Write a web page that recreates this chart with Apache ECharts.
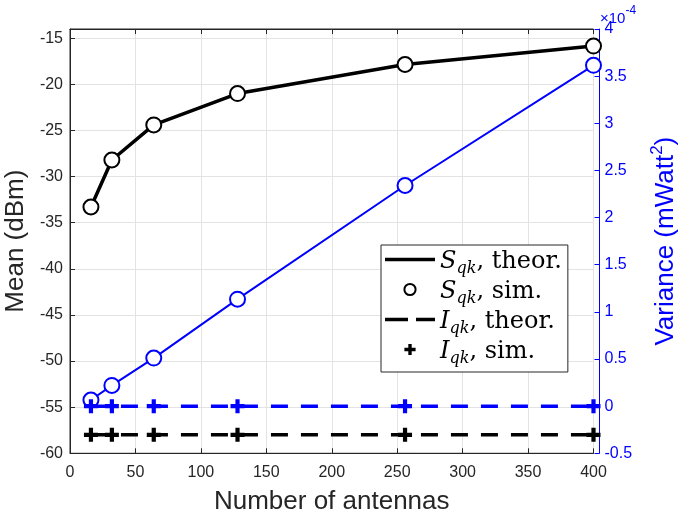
<!DOCTYPE html>
<html>
<head>
<meta charset="utf-8">
<script src="https://cdn.jsdelivr.net/npm/echarts@6/dist/echarts.min.js"></script>
<style>html,body{margin:0;padding:0;background:#fff}#c{width:678px;height:517px}</style>
</head>
<body>
<div id="c"></div>
<script>
// ---- data ----
const antennas = [16, 32, 64, 128, 256, 400];
const sMeanTheor = [-33.3, -28.2, -24.4, -21.0, -17.85, -15.85];
const sMeanSim = [-33.3, -28.2, -24.4, -21.0, -17.85, -15.85];
const iMeanTheor = [-58, -58, -58, -58, -58, -58];
const iMeanSim = [-58, -58, -58, -58, -58, -58];
const sVarTheor = [0.065, 0.22, 0.51, 1.135, 2.34, 3.615]; // x1e-4
const sVarSim = [0.065, 0.22, 0.51, 1.135, 2.34, 3.615];
const iVarTheor = [0, 0, 0, 0, 0, 0];
const iVarSim = [0, 0, 0, 0, 0, 0];
const xTicks = [0, 50, 100, 150, 200, 250, 300, 350, 400];
const legendNames = ['S_theor', 'S_sim', 'I_theor', 'I_sim'];
const legendLabels = {
  S_theor: '{i|S}{sub|qk}{n|, theor.}',
  S_sim: '{i|S}{sub|qk}{n|, sim.}',
  I_theor: '{i|I}{sub|qk}{n|, theor.}',
  I_sim: '{i|I}{sub|qk}{n|, sim.}'
};

const pts = arr => antennas.map((x, i) => [x, arr[i]]);
const PLUS = 'path://M3.5,0h3v3.5h3.5v3h-3.5v3.5h-3v-3.5h-3.5v-3h3.5z';
const SOLID_ICON = 'path://M0,0h50v3.5h-50z';
const DASH_ICON = 'path://M0,0h23v3.5h-23zM31,0h19v3.5h-19z';
const AX = '#262626';
const BLUE = '#0000ff';
const SANS = 'Liberation Sans, Arial, Helvetica, sans-serif';
const SERIF = 'DejaVu Serif, Liberation Serif, serif';

const chart = echarts.init(document.getElementById('c'), null, {renderer: 'canvas'});
chart.setOption({
  animation: false,
  backgroundColor: '#fff',
  grid: {left: 70, right: 84.5, top: 29, bottom: 63.7, show: true, borderColor: AX, borderWidth: 1,
    backgroundColor: 'transparent', containLabel: false, outerBoundsMode: 'none'},
  xAxis: [{
    type: 'value', min: xTicks[0], max: xTicks[xTicks.length - 1], interval: 50,
    axisLine: {show: true, onZero: false, lineStyle: {color: AX, width: 1}},
    axisTick: {show: true, inside: true, length: 5, lineStyle: {color: AX}},
    axisLabel: {color: AX, fontSize: 16, fontFamily: SANS, margin: 11},
    splitLine: {show: true, lineStyle: {color: '#e3e3e3', width: 1}},
    name: 'Number of antennas', nameLocation: 'middle', nameGap: 36,
    nameTextStyle: {color: AX, fontSize: 26, fontFamily: SANS}
  }, {
    type: 'value', position: 'top', min: 0, max: 400, interval: 50,
    axisLine: {show: true, onZero: false, lineStyle: {color: AX}},
    axisTick: {show: true, inside: true, length: 5, lineStyle: {color: AX}},
    axisLabel: {show: false}, splitLine: {show: false}
  }],
  yAxis: [{
    type: 'value', position: 'left', min: -60, max: -14, interval: 5,
    axisLine: {show: true, onZero: false, lineStyle: {color: AX}},
    axisTick: {show: true, inside: true, length: 5, lineStyle: {color: AX}},
    axisLabel: {color: AX, fontSize: 16, fontFamily: SANS, margin: 7,
      formatter: v => (Math.round(v) % 5 === 0 ? String(v) : '')},
    splitLine: {show: true, lineStyle: {color: '#e3e3e3', width: 1}},
    name: 'Mean (dBm)', nameLocation: 'middle', nameRotate: 90, nameGap: 33,
    nameTextStyle: {color: AX, fontSize: 26, fontFamily: SANS}
  }, {
    type: 'value', position: 'right', offset: 6, min: -0.5, max: 4, interval: 0.5,
    axisLine: {show: true, onZero: false, lineStyle: {color: BLUE}},
    axisTick: {show: true, inside: true, length: 5, lineStyle: {color: BLUE}},
    axisLabel: {color: BLUE, fontSize: 16, fontFamily: SANS, margin: 5},
    splitLine: {show: false},
    name: '{t|Variance (mWatt}{sup|2}{t|)}', nameLocation: 'middle', nameRotate: 90, nameGap: 49,
    nameTextStyle: {color: BLUE, fontFamily: SANS, rich: {
      t: {fontSize: 26, color: BLUE, fontFamily: SANS, lineHeight: 30, verticalAlign: 'bottom'},
      sup: {fontSize: 17, color: BLUE, fontFamily: SANS, lineHeight: 30, verticalAlign: 'top', padding: [0, 0, 8, 0]}
    }}
  }],
  graphic: [{
    type: 'text', left: 600, top: 4, silent: true,
    style: {
      text: '{a|×10}{b|-4}', fill: BLUE,
      rich: {
        a: {fontSize: 15, fontFamily: SANS, fill: BLUE, lineHeight: 22, verticalAlign: 'bottom'},
        b: {fontSize: 12, fontFamily: SANS, fill: BLUE, lineHeight: 22, verticalAlign: 'top', padding: [1, 0, 0, 0]}
      }
    }
  }],
  legend: {
    data: [
      {name: 'S_theor', icon: SOLID_ICON},
      {name: 'S_sim'},
      {name: 'I_theor', icon: DASH_ICON},
      {name: 'I_sim'}
    ],
    orient: 'vertical', left: 381, top: 245,
    padding: [5, 6, 5, 4], itemGap: 3, itemWidth: 50, itemHeight: 14,
    backgroundColor: '#fff', borderColor: AX, borderWidth: 1, borderRadius: 0,
    selectedMode: false,
    formatter: n => legendLabels[n],
    textStyle: {
      color: '#000', padding: [0, 0, 0, 0],
      rich: {
        i: {fontFamily: SERIF, fontStyle: 'italic', fontSize: 24, color: '#000', lineHeight: 29, verticalAlign: 'bottom'},
        sub: {fontFamily: SERIF, fontStyle: 'italic', fontSize: 16, color: '#000', lineHeight: 18, verticalAlign: 'bottom', padding: [0, 0, -3, 0]},
        n: {fontFamily: SERIF, fontSize: 24, color: '#000', lineHeight: 29, verticalAlign: 'bottom'}
      }
    }
  },
  series: [
    {name: 'sVarTheor', type: 'line', xAxisIndex: 0, yAxisIndex: 1, data: pts(sVarTheor), symbol: 'none',
      lineStyle: {color: BLUE, width: 2}, itemStyle: {color: BLUE}, z: 2},
    {name: 'sVarSim', type: 'line', xAxisIndex: 0, yAxisIndex: 1, data: pts(sVarSim), symbol: 'emptyCircle', symbolSize: 15,
      lineStyle: {opacity: 0, width: 0}, itemStyle: {color: BLUE, borderColor: BLUE, borderWidth: 3}, z: 3},
    {name: 'iVarTheor', type: 'line', xAxisIndex: 0, yAxisIndex: 1, data: pts(iVarTheor), symbol: 'none',
      lineStyle: {color: BLUE, width: 3.5, type: [17, 13]}, itemStyle: {color: BLUE}, z: 2},
    {name: 'iVarSim', type: 'line', xAxisIndex: 0, yAxisIndex: 1, data: pts(iVarSim), symbol: PLUS, symbolSize: 14,
      lineStyle: {opacity: 0, width: 0}, itemStyle: {color: BLUE, borderWidth: 0}, z: 3},
    {name: 'S_theor', type: 'line', xAxisIndex: 0, yAxisIndex: 0, data: pts(sMeanTheor), symbol: 'none',
      lineStyle: {color: '#000', width: 3.5}, itemStyle: {color: '#000'}, z: 4},
    {name: 'S_sim', type: 'line', xAxisIndex: 0, yAxisIndex: 0, data: pts(sMeanSim), symbol: 'emptyCircle', symbolSize: 15,
      lineStyle: {opacity: 0, width: 0}, itemStyle: {color: '#000', borderColor: '#000', borderWidth: 3}, z: 5},
    {name: 'I_theor', type: 'line', xAxisIndex: 0, yAxisIndex: 0, data: pts(iMeanTheor), symbol: 'none',
      lineStyle: {color: '#000', width: 3.5, type: [17, 13]}, itemStyle: {color: '#000'}, z: 4},
    {name: 'I_sim', type: 'line', xAxisIndex: 0, yAxisIndex: 0, data: pts(iMeanSim), symbol: PLUS, symbolSize: 14,
      lineStyle: {opacity: 0, width: 0}, itemStyle: {color: '#000', borderWidth: 0}, z: 5}
  ]
});
</script>
</body>
</html>
